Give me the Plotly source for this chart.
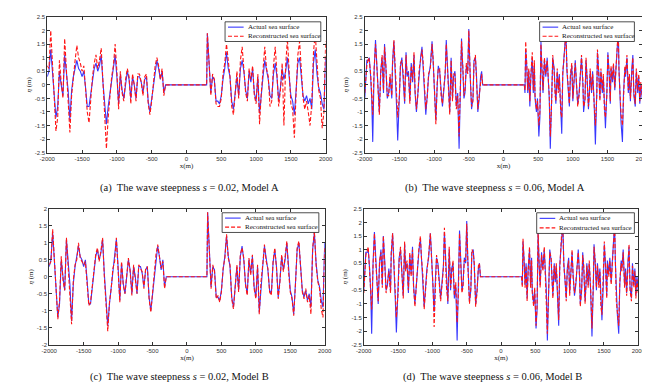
import plotly.graph_objects as go

# ---------------- data ----------------
# s = 0.02 panels (a), (c): 25 m sampling, same actual surface in both panels
X_LEFT_002 = list(range(-2000, -299, 25))
X_RIGHT_002 = list(range(300, 2001, 25))
GAP_X_002 = [290]
GAP_Y_002 = [0.0]

ACT_L_002 = [0.3, 0.5, 1.3, 0.4, -0.6, -1.2, -0.8, 0.5, 0.0, -0.4,
             1.1, 0.4, -0.2, -1.3, -0.2, 0.3, 0.6, 0.9, 0.6, 0.5,
             0.3, 0.5, -0.1, -0.8, -0.8, -0.3, 0.2, 0.6, 0.8, 0.5,
             0.7, 1.1, 0.1, -0.8, -1.45, -0.8, -0.3, 0.2, 0.5, 1.1,
             0.3, -0.7, 0.4, -0.2, -0.5, 0.1, 0.5, 0.2, -0.5, 0.3,
             0.0, -0.5, 0.3, 0.3, 0.1, -0.3, 0.2, 0.3, -0.6, -1.0,
             -0.5, 0.1, 0.6, 0.9, 0.6, 0.2, 0.5, -0.3, 0.0]
ACT_R_002 = [1.9, 0.5, -0.3, 0.3, 0.2, -0.6, -0.6, -0.7, -0.4, 0.2,
             0.6, 1.2, 0.6, 0.3, -0.6, -0.9, -0.2, 0.3, -0.4, 0.6,
             0.9, 0.5, -0.2, -0.5, 0.5, 0.1, 0.6, -0.3, -0.6, 0.3,
             -1.05, -0.2, 0.3, 0.9, 0.5, 0.2, -0.4, -0.5, 0.4, 0.8,
             0.3, -0.6, -0.1, 0.6, 0.2, 0.5, 1.0, 0.2, -0.4, -0.6,
             -1.1, -0.2, 0.8, 1.0, 0.4, -0.4, -0.6, -0.4, -0.7, -0.5,
             -0.9, 0.8, 1.3, 0.4, -0.1, -0.3, -0.7, -0.9, 1.0]
REC_A_L_002 = [0.7, 0.6, 2.0, 0.7, -0.7, -1.7, -1.2, 0.9, 0.1, -0.5,
               1.7, 0.5, -0.4, -1.75, -0.4, 0.4, 0.9, 1.45, 1.0, 0.8,
               0.5, 0.7, -0.2, -1.0, -1.4, -0.4, 0.3, 0.8, 1.1, 0.6,
               0.9, 1.35, 0.2, -1.0, -2.35, -1.2, -0.4, 0.3, 0.7, 1.5,
               0.5, -0.9, 0.5, -0.3, -0.6, 0.2, 0.6, 0.3, -0.7, 0.4,
               0.0, -0.6, 0.4, 0.4, 0.1, -0.4, 0.3, 0.4, -0.7, -1.1,
               -0.6, 0.1, 0.7, 1.0, 0.7, 0.2, 0.6, -0.4, 0.0]
REC_A_R_002 = [1.9, 0.8, -0.4, 0.4, 0.2, -0.7, -0.8, -0.8, -0.5, 0.4,
               0.8, 1.5, 0.9, 0.3, -0.8, -1.1, -0.3, 0.5, -0.5, 0.9,
               1.4, 0.6, -0.3, -0.6, 0.6, 0.2, 0.7, -0.4, -0.7, 0.4,
               -1.45, -0.3, 0.5, 1.4, 0.6, 0.3, -0.8, -0.6, 0.7, 1.4,
               0.4, -0.8, -0.2, 0.8, -1.5, 0.7, 1.7, 0.3, -0.7, -0.9,
               -1.95, -0.3, 1.1, 1.6, 0.6, -0.5, -0.9, -0.6, -1.0, -1.5,
               -0.7, 1.2, 1.9, 0.6, -0.2, -0.5, -1.6, -1.0, 1.6]
REC_B_L_002 = [0.35, 0.45, 1.4, 0.5, -0.5, -1.25, -0.7, 0.6, -0.1, -0.4,
               1.15, 0.3, -0.3, -1.4, -0.1, 0.35, 0.5, 1.0, 0.55, 0.45,
               0.35, 0.45, -0.2, -0.85, -0.75, -0.25, 0.15, 0.65, 0.85, 0.45,
               0.75, 1.15, 0.0, -0.85, -1.6, -0.75, -0.35, 0.25, 0.45, 1.15,
               0.25, -0.75, 0.45, -0.25, -0.5, 0.15, 0.55, 0.15, -0.55, 0.35,
               -0.05, -0.5, 0.35, 0.25, 0.15, -0.35, 0.25, 0.3, -0.65, -1.05,
               -0.45, 0.15, 0.65, 0.95, 0.55, 0.25, 0.45, -0.35, 0.0]
REC_B_R_002 = [1.9, 0.55, -0.35, 0.35, 0.15, -0.65, -0.55, -0.75, -0.45, 0.25,
               0.55, 1.25, 0.55, 0.35, -0.65, -0.95, -0.15, 0.35, -0.45, 0.65,
               0.85, 0.55, -0.25, -0.55, 0.55, 0.05, 0.65, -0.35, -0.65, 0.35,
               -1.1, -0.15, 0.35, 0.95, 0.45, 0.25, -0.45, -0.55, 0.45, 0.85,
               0.25, -0.65, -0.15, 0.65, 0.15, 0.55, 1.05, 0.15, -0.45, -0.65,
               -1.15, -0.25, 0.85, 1.05, 0.35, -0.45, -0.65, -0.35, -0.75, -0.55,
               -1.1, 0.85, 1.35, 0.35, -0.15, -0.35, -0.95, -1.2, 0.9]

# s = 0.06 panels (b), (d): samples at crests / troughs
X_LEFT_006 = [-2000, -1970, -1945, -1935, -1915, -1900, -1885, -1865, -1845, -1830,
              -1805, -1790, -1770, -1750, -1730, -1715, -1695, -1675, -1655, -1635,
              -1610, -1600, -1580, -1555, -1540, -1525, -1500, -1485, -1465, -1445,
              -1425, -1405, -1390, -1370, -1350, -1330, -1310, -1290, -1275, -1255,
              -1235, -1215, -1195, -1175, -1160, -1140, -1120, -1100, -1080, -1055,
              -1030, -1015, -990, -975, -955, -940, -920, -900, -880, -860,
              -840, -825, -810, -795, -775, -755, -735, -720, -700, -680,
              -660, -640, -620, -605, -585, -570, -555, -535, -515, -500,
              -480, -460, -440, -425, -405, -390, -370, -350, -330, -315,
              -300]
X_RIGHT_006 = [300, 310, 320, 335, 350, 365, 380, 395, 415, 430,
               445, 455, 475, 490, 510, 525, 540, 555, 570, 590,
               610, 630, 645, 660, 675, 695, 710, 730, 745, 755,
               775, 790, 805, 825, 840, 855, 870, 885, 900, 915,
               935, 950, 965, 985, 1000, 1020, 1035, 1050, 1070, 1090,
               1110, 1125, 1145, 1155, 1175, 1190, 1205, 1225, 1240, 1250,
               1270, 1285, 1305, 1325, 1345, 1355, 1375, 1390, 1405, 1425,
               1440, 1455, 1470, 1490, 1505, 1525, 1540, 1550, 1570, 1585,
               1605, 1620, 1640, 1655, 1665, 1680, 1695, 1715, 1730, 1750,
               1760, 1780, 1800, 1815, 1830, 1850, 1865, 1880, 1900, 1915,
               1935, 1950, 1965, 1980, 2000]

ACT_L_006 = [-0.5, 0.9, 0.9, 1.0, 0.3, -0.5, -2.1, 0.5, 1.65, 0.8,
             -0.2, -1.0, 0.5, 1.0, -0.3, 1.5, 0.6, -0.5, -0.3, 0.3,
             -0.5, 0.8, 1.6, 0.3, -0.9, -2.05, -0.5, 0.7, 1.0, 0.3,
             -0.7, 1.2, 0.3, 0.5, -0.6, 0.8, 0.1, 1.1, -0.3, -1.0,
             -0.3, 0.5, 1.0, 1.4, 0.8, 0.0, -1.1, -0.4, 0.3, 0.7,
             1.6, 0.9, -0.3, -1.3, 0.0, 0.7, 0.5, -0.3, -0.8, -0.2,
             0.4, 1.65, 0.7, -0.3, -1.0, 1.0, -0.5, 0.3, 0.5, -0.8,
             -0.3, -2.35, -0.4, 1.7, 0.5, -0.5, -0.3, 0.7, 0.5, 2.05,
             0.3, -0.9, -0.5, 0.9, 1.0, 0.4, -1.0, -0.5, 0.3, 0.5,
             0.0]
ACT_R_006 = [0.0, -0.3, 1.3, 0.7, -0.3, 0.5, -0.8, 0.3, 1.0, -0.3,
             0.7, -0.5, -1.0, -0.5, -1.9, -1.2, 1.6, 0.5, -0.3, 0.9,
             0.3, 1.0, 0.0, -0.5, -2.35, -0.5, 1.0, 0.6, -0.3, -0.7,
             0.5, -0.2, 0.4, -1.1, -1.8, 0.4, 1.0, 1.6, 2.0, 0.5,
             -0.3, -0.8, 0.3, 0.7, -0.6, 0.3, 0.9, 0.1, -0.7, -0.3,
             0.5, 1.0, 0.0, -1.0, -0.5, 0.9, 0.3, -0.9, -0.2, 0.5,
             -0.3, 0.5, -0.5, -2.2, -0.3, 1.2, 0.4, -0.5, 0.5, -0.3,
             0.3, -1.0, -1.6, -0.3, 1.2, 0.3, -0.7, 0.6, 0.1, 0.7,
             -0.2, 0.5, 1.6, 2.0, 0.6, -0.8, -1.4, -2.1, -0.3, 0.6,
             0.3, 1.0, -0.3, 0.3, -0.6, 0.6, 1.1, -0.4, -0.8, 0.5,
             -0.3, 0.3, -0.7, 0.0, -0.5]
REC_A_L_006 = [-0.3, 0.7, 1.0, 0.9, 0.4, -0.3, -1.1, 0.6, 1.5, 0.9,
               -0.1, -1.1, 0.4, 1.1, -0.2, 1.4, 0.7, -0.4, -0.4, 0.4,
               -0.4, 0.7, 1.65, 0.4, -0.7, -1.2, -0.4, 0.8, 0.9, 0.4,
               -0.6, 1.1, 0.4, 0.4, -0.7, 0.7, 0.2, 1.2, -0.2, -0.9,
               -0.4, 0.6, 0.9, 1.3, 0.9, -0.1, -0.9, -0.5, 0.4, 0.6,
               1.5, 1.0, -0.5, -1.45, 0.1, 0.6, 0.6, -0.4, -0.7, -0.1,
               0.5, 1.5, 0.8, -0.2, -1.1, 0.9, -0.6, 0.4, 0.4, -0.9,
               -0.4, -1.9, -0.3, 1.6, 0.6, -0.4, -0.2, 0.8, 0.4, 2.0,
               0.4, -0.8, -0.6, 0.8, 1.1, 0.3, -0.9, -0.4, 0.2, 0.4,
               0.0]
REC_A_R_006 = [0.0, -0.2, 1.6, 0.8, -0.2, 0.6, -0.6, 0.4, 1.2, -0.2,
               0.9, -0.4, -0.9, -0.6, -1.5, -1.0, 1.5, 0.6, -0.2, 1.0,
               0.4, 0.9, 0.1, -0.4, -1.9, -0.6, 1.1, 0.5, -0.4, -0.6,
               0.6, -0.3, 0.3, -1.0, -1.2, 0.5, 0.9, 1.5, 1.9, 0.6,
               -0.4, -0.7, 0.4, 0.8, -0.5, 0.4, 0.8, 0.2, -0.8, -0.4,
               0.6, 1.1, 0.1, -0.8, -0.6, 1.0, 0.2, -0.8, -0.3, 0.6,
               -0.2, 0.4, -0.6, -1.5, -0.4, 1.3, 0.3, -0.6, 0.6, -0.2,
               0.4, -0.9, -1.2, -0.4, 1.1, 0.4, -0.6, 0.7, 0.2, 0.8,
               -0.1, 0.6, 1.7, 2.05, 0.5, -0.7, -1.1, -1.5, -0.4, 0.7,
               0.4, 1.1, -0.2, 0.4, -0.5, 0.7, 1.0, -0.3, -0.7, 0.6,
               -0.2, 0.4, -0.6, 0.1, -0.4]
REC_B_L_006 = [-0.6, 0.8, 1.0, 1.1, 0.2, -0.6, -1.2, 0.4, 1.6, 0.7,
               -0.3, -0.9, 0.6, 0.9, -0.4, 1.5, 0.5, -0.6, -0.2, 0.2,
               -0.6, 0.9, 1.6, 0.2, -1.0, -1.5, -0.6, 0.6, 1.1, 0.2,
               -0.8, 1.3, 0.2, 0.6, -0.5, 0.9, 0.0, 1.0, -0.4, -1.1,
               -0.2, 0.4, 1.1, 1.5, 0.7, 0.1, -1.2, -0.3, 0.2, 0.8,
               1.6, 0.8, -0.4, -1.85, -0.1, 0.8, 0.4, -0.2, -0.9, -0.3,
               0.3, 1.8, 0.6, -0.4, -0.9, 1.1, -0.4, 0.2, 0.6, -0.7,
               -0.2, -1.7, -0.5, 1.6, 0.4, -0.6, -0.4, 0.6, 0.6, 1.95,
               0.2, -1.0, -0.4, 1.0, 0.9, 0.5, -1.1, -0.6, 0.4, 0.5,
               0.0]
REC_B_R_006 = [0.0, -0.4, 1.4, 0.6, -0.4, 0.4, -0.9, 0.2, 1.1, -0.4,
               0.6, -0.6, -1.1, -0.4, -1.8, -1.1, 1.7, 0.4, -0.4, 0.8,
               0.2, 1.1, -0.1, -0.6, -2.1, -0.4, 0.9, 0.7, -0.2, -0.8,
               0.4, -0.1, 0.5, -1.2, -1.6, 0.3, 1.1, 1.7, 1.8, 0.4,
               -0.2, -0.9, 0.2, 0.6, -0.7, 0.2, 1.0, 0.0, -0.6, -0.2,
               0.4, 0.9, -0.1, -1.1, -0.4, 0.8, 0.4, -1.0, -0.1, 0.4,
               -0.4, 0.6, -0.4, -1.9, -0.2, 1.1, 0.5, -0.4, 0.4, -0.4,
               0.2, -1.1, -1.4, -0.2, 1.3, 0.2, -0.8, 0.5, 0.0, 0.6,
               -0.3, 0.4, 1.5, 1.9, 0.7, -0.9, -1.3, -1.8, -0.2, 0.5,
               0.2, 0.9, -0.4, 0.2, -0.7, 0.5, 1.2, -0.5, -0.9, 0.4,
               -0.4, 0.2, -0.8, -0.1, -0.6]

X_TICKS = [-2000, -1500, -1000, -500, 0, 500, 1000, 1500, 2000]
X_TICK_LABELS = ["-2000", "-1500", "-1000", "-500", "0", "500", "1000", "1500", "2000"]
Y_TICKS_25 = [-2.5, -2, -1.5, -1, -0.5, 0, 0.5, 1, 1.5, 2, 2.5]
Y_TICK_LABELS_25 = ["-2.5", "-2", "-1.5", "-1", "-0.5", "0", "0.5", "1", "1.5", "2", "2.5"]
Y_TICKS_20 = [-2, -1.5, -1, -0.5, 0, 0.5, 1, 1.5, 2]
Y_TICK_LABELS_20 = ["-2", "-1.5", "-1", "-0.5", "0", "0.5", "1", "1.5", "2"]

CAPTIONS = ["(a)  The wave steepness <i>s</i> = 0.02, Model A",
            "(b)  The wave steepness <i>s</i> = 0.06, Model A",
            "(c)  The wave steepness <i>s</i> = 0.02, Model B",
            "(d)  The wave steepness <i>s</i> = 0.06, Model B"]
NAMES = ["Actual sea surface", "Reconstructed sea surface"]

for a, b in [(X_LEFT_002, ACT_L_002), (X_LEFT_002, REC_A_L_002), (X_LEFT_002, REC_B_L_002),
             (X_RIGHT_002, ACT_R_002), (X_RIGHT_002, REC_A_R_002), (X_RIGHT_002, REC_B_R_002),
             (X_LEFT_006, ACT_L_006), (X_LEFT_006, REC_A_L_006), (X_LEFT_006, REC_B_L_006),
             (X_RIGHT_006, ACT_R_006), (X_RIGHT_006, REC_A_R_006), (X_RIGHT_006, REC_B_R_006)]:
    assert len(a) == len(b), (len(a), len(b))

W, H = 650, 382
SERIF = "Liberation Serif"
SANS = "Liberation Sans"
BLUE = "rgb(55,55,255)"
RED = "rgb(255,20,20)"
DASH = "4px,2px"


def fx(px):
    return px / W


def fy(py):
    return 1 - py / H


# panel boxes in pixels: (left, right, top, bottom)
BOXES = [(32, 317, 6, 144), (357, 641, 6, 144), (34, 316, 201, 339), (356, 637, 201, 339)]
# legend boxes in pixels: (left, right, top, bottom)
LEGEND_BOXES = [(214, 312, 11, 31), (536, 633, 11, 31), (211, 310, 205, 225), (533, 633, 205, 226)]
CAPTION_POS = [(178, 180), (490, 180), (167, 372), (488, 372)]

panels = [
    (X_LEFT_002 + GAP_X_002 + X_RIGHT_002, ACT_L_002 + GAP_Y_002 + ACT_R_002, REC_A_L_002 + GAP_Y_002 + REC_A_R_002),
    (X_LEFT_006 + X_RIGHT_006, ACT_L_006 + ACT_R_006, REC_A_L_006 + REC_A_R_006),
    (X_LEFT_002 + GAP_X_002 + X_RIGHT_002, ACT_L_002 + GAP_Y_002 + ACT_R_002, REC_B_L_002 + GAP_Y_002 + REC_B_R_002),
    (X_LEFT_006 + X_RIGHT_006, ACT_L_006 + ACT_R_006, REC_B_L_006 + REC_B_R_006),
]

fig = go.Figure()
layout = dict(width=W, height=H, margin=dict(l=0, r=0, t=0, b=0), showlegend=False,
              paper_bgcolor="white", plot_bgcolor="white", annotations=[], shapes=[])

for k, (xs, act, rec) in enumerate(panels):
    sfx = "" if k == 0 else str(k + 1)
    fig.add_trace(go.Scatter(x=xs, y=act, mode="lines", name=NAMES[0],
                             line=dict(color=BLUE, width=1.1),
                             xaxis="x" + sfx, yaxis="y" + sfx))
    fig.add_trace(go.Scatter(x=xs, y=rec, mode="lines", name=NAMES[1],
                             line=dict(color=RED, width=1.1, dash=DASH),
                             xaxis="x" + sfx, yaxis="y" + sfx))
    l, r, t, b = BOXES[k]
    yt, ytl, yr = (Y_TICKS_20, Y_TICK_LABELS_20, [-2, 2]) if k == 2 else (Y_TICKS_25, Y_TICK_LABELS_25, [-2.5, 2.5])
    common = dict(showgrid=False, zeroline=False, showline=True, linecolor="#333333", linewidth=0.7,
                  mirror="ticks", ticks="inside", ticklen=3, tickwidth=0.6, tickcolor="#333333",
                  tickfont=dict(family=SANS, size=6, color="#333333"))
    layout["xaxis" + sfx] = dict(domain=[fx(l), fx(r)], anchor="y" + sfx, range=[-2000, 2000],
                                 tickvals=X_TICKS, ticktext=X_TICK_LABELS,
                                 title=dict(text="x(m)", font=dict(family=SERIF, size=7, color="#222"), standoff=2),
                                 **common)
    layout["yaxis" + sfx] = dict(domain=[fy(b), fy(t)], anchor="x" + sfx, range=yr,
                                 tickvals=yt, ticktext=ytl,
                                 title=dict(text="<i>η</i> (m)", font=dict(family=SERIF, size=7, color="#222"), standoff=2),
                                 **common)
    # legend drawn as a compact MATLAB-style box
    ll, lr, lt, lb = LEGEND_BOXES[k]
    layout["shapes"].append(dict(type="rect", xref="paper", yref="paper",
                                 x0=fx(ll), x1=fx(lr), y0=fy(lb), y1=fy(lt),
                                 line=dict(color="#222222", width=0.8), fillcolor="white", layer="above"))
    rows = [lt + (lb - lt) * 0.27, lt + (lb - lt) * 0.73]
    for j, (col, dash) in enumerate([(BLUE, "solid"), (RED, DASH)]):
        layout["shapes"].append(dict(type="line", xref="paper", yref="paper",
                                     x0=fx(ll + 3), x1=fx(ll + 19), y0=fy(rows[j]), y1=fy(rows[j]),
                                     line=dict(color=col, width=1.1, dash=dash), layer="above"))
        layout["annotations"].append(dict(text=NAMES[j], x=fx(ll + 21), y=fy(rows[j]),
                                          xref="paper", yref="paper", xanchor="left", yanchor="middle",
                                          showarrow=False,
                                          font=dict(family=SERIF, size=7, color="#111")))
    cx, cy = CAPTION_POS[k]
    layout["annotations"].append(dict(text=CAPTIONS[k], x=fx(cx), y=fy(cy), xref="paper", yref="paper",
                                      xanchor="center", yanchor="middle", showarrow=False,
                                      font=dict(family=SERIF, size=10.5, color="#111")))

fig.update_layout(**layout)
fig.write_html("out.html")
